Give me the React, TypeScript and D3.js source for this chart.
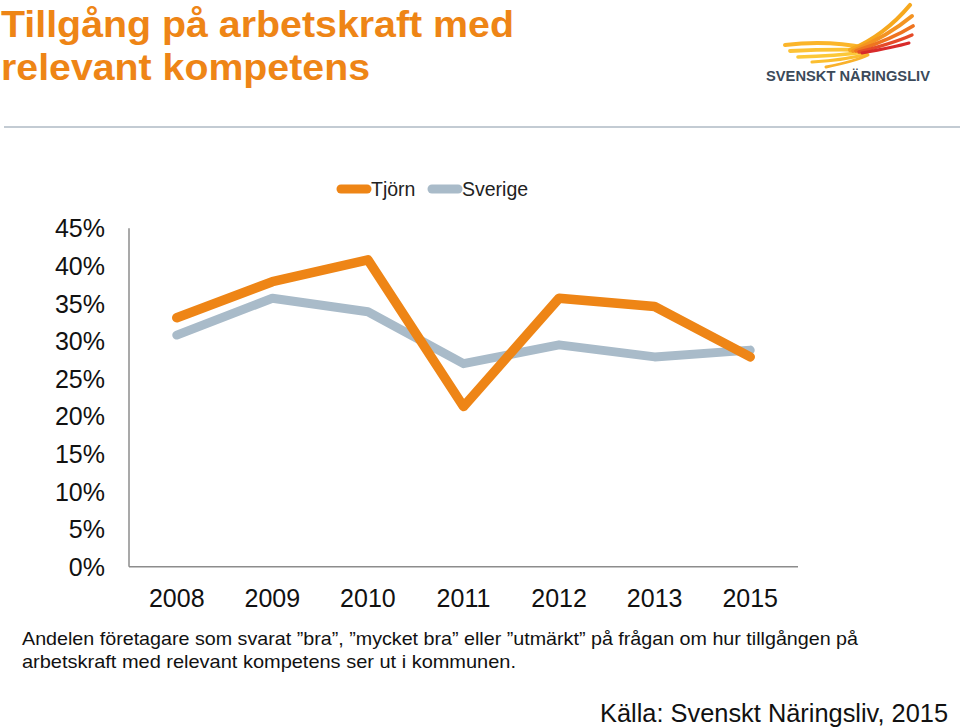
import React from "react";
import * as d3 from "d3";

const years = ["2008", "2009", "2010", "2011", "2012", "2013", "2015"];
const tjorn = [33.1, 37.9, 40.8, 21.3, 35.7, 34.6, 27.9];
const sverige = [30.8, 35.7, 33.9, 27.0, 29.5, 27.9, 28.8];
const yTicks = [0, 5, 10, 15, 20, 25, 30, 35, 40, 45];
const seriesNames = ["Tjörn", "Sverige"];
const seriesColors = ["#EE8516", "#A9BBC9"];

const titleLines = ["Tillgång på arbetskraft med", "relevant kompetens"];
const captionLines = [
  "Andelen företagare som svarat \u201dbra\u201d, \u201dmycket bra\u201d eller \u201dutmärkt\u201d på frågan om hur tillgången på",
  "arbetskraft med relevant kompetens ser ut i kommunen.",
];
const sourceText = "Källa: Svenskt Näringsliv, 2015";

const W = 960;
const H = 728;
const plot = { left: 129, right: 798, top: 228.3, bottom: 566.7 };

export default function App() {
  const x = d3.scaleBand<string>().domain(years).range([plot.left, plot.right]);
  const y = d3.scaleLinear().domain([0, 45]).range([plot.bottom, plot.top]);
  const line = d3
    .line<number>()
    .x((_, i) => (x(years[i]) as number) + x.bandwidth() / 2)
    .y((d) => y(d));

  const font = "'Liberation Sans', Arial, sans-serif";

  const rightFeathers = [
    { d: "M850,50 Q884,36 910,5", c: "#F6A81E", w: 4.2 },
    { d: "M853,51 Q888,36 912,16", c: "#F39322", w: 4 },
    { d: "M856,51 Q892,39 913,26", c: "#EE7420", w: 3.8 },
    { d: "M859,52 Q894,43 912,35", c: "#E54A28", w: 3.4 },
    { d: "M862,53 Q895,47 909,43", c: "#D82A2A", w: 3 },
  ];
  const leftFeathers = [
    { d: "M785,45 Q828,40 866,48", c: "#FBB52A", w: 4 },
    { d: "M790,51 Q830,49 866,50", c: "#FCC236", w: 3.8 },
    { d: "M798,57 Q836,56 866,52", c: "#FCC838", w: 3.6 },
    { d: "M812,62 Q846,60 867,54", c: "#FBBE30", w: 3.2 },
    { d: "M826,67 Q856,61 868,55", c: "#F9B12C", w: 3 },
  ];

  return (
    <svg
      width={W}
      height={H}
      style={{ position: "absolute", left: 0, top: 0, background: "#fff" }}
    >
      <rect x={0} y={0} width={W} height={H} fill="#fff" />
      {titleLines.map((t, i) => (
        <text
          key={t}
          x={1}
          y={37 + i * 43}
          fontFamily={font}
          fontWeight="bold"
          fontSize={37}
          fill="#EE8516"
          textLength={i === 0 ? 513 : 369}
          lengthAdjust="spacingAndGlyphs"
        >
          {t}
        </text>
      ))}

      {/* logo */}
      <g fill="none" strokeLinecap="round">
        {leftFeathers.map((f, i) => (
          <path key={"l" + i} d={f.d} stroke={f.c} strokeWidth={f.w} />
        ))}
        {rightFeathers.map((f, i) => (
          <path key={"r" + i} d={f.d} stroke={f.c} strokeWidth={f.w} />
        ))}
      </g>
      <text
        x={766}
        y={81}
        fontFamily={font}
        fontWeight="bold"
        fontSize={14.5}
        fill="#3B4A5A"
        textLength={164}
        lengthAdjust="spacingAndGlyphs"
      >
        SVENSKT NÄRINGSLIV
      </text>

      <line x1={4} x2={W} y1={127} y2={127} stroke="#C3CBD3" strokeWidth={2} />

      {/* legend */}
      {seriesNames.map((n, i) => {
        const lx = i === 0 ? 337 : 428;
        return (
          <g key={n}>
            <line
              x1={lx + 4}
              x2={lx + 30}
              y1={189}
              y2={189}
              stroke={seriesColors[i]}
              strokeWidth={9}
              strokeLinecap="round"
            />
            <text x={lx + 34} y={196} fontFamily={font} fontSize={19.5} fill="#222">
              {n}
            </text>
          </g>
        );
      })}

      {/* axes */}
      <line x1={plot.left} x2={plot.left} y1={plot.top} y2={plot.bottom} stroke="#8C8C8C" strokeWidth={1.5} />
      <line x1={plot.left} x2={plot.right} y1={plot.bottom} y2={plot.bottom} stroke="#8C8C8C" strokeWidth={1.5} />
      {yTicks.map((t) => (
        <text
          key={t}
          x={105}
          y={y(t) + 9}
          textAnchor="end"
          fontFamily={font}
          fontSize={25}
          fill="#111"
        >
          {t + "%"}
        </text>
      ))}
      {years.map((yr) => (
        <text
          key={yr}
          x={(x(yr) as number) + x.bandwidth() / 2}
          y={607}
          textAnchor="middle"
          fontFamily={font}
          fontSize={25}
          fill="#111"
        >
          {yr}
        </text>
      ))}

      {/* lines */}
      <path d={line(sverige) || ""} fill="none" stroke={seriesColors[1]} strokeWidth={9} strokeLinejoin="round" strokeLinecap="round" />
      <path d={line(tjorn) || ""} fill="none" stroke={seriesColors[0]} strokeWidth={9.5} strokeLinejoin="round" strokeLinecap="round" />

      {/* caption */}
      {captionLines.map((c, i) => (
        <text
          key={i}
          x={22}
          y={645 + i * 23}
          fontFamily={font}
          fontSize={18.5}
          fill="#111"
          textLength={i === 0 ? 836 : 494}
          lengthAdjust="spacingAndGlyphs"
        >
          {c}
        </text>
      ))}
      <text
        x={948}
        y={722}
        textAnchor="end"
        fontFamily={font}
        fontSize={25}
        fill="#111"
        textLength={348}
        lengthAdjust="spacingAndGlyphs"
      >
        {sourceText}
      </text>
    </svg>
  );
}
